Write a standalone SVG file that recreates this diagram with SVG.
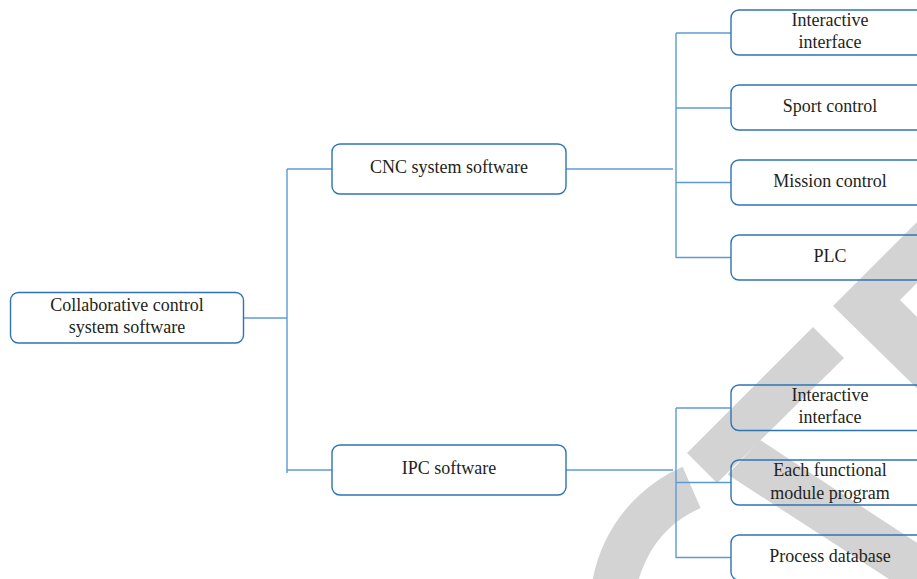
<svg xmlns="http://www.w3.org/2000/svg" width="917" height="579" viewBox="0 0 917 579">
  <style>
    .box { fill: none; stroke: #2e74b5; stroke-width: 1.4; }
    .lbl { font-size: 18px; fill: #231f20; text-anchor: middle; }
    .wire { fill: none; stroke: #5b9bd5; stroke-width: 1.4; }
    .wm { fill: #d3d3d3; stroke: none; }
  </style>

  <!-- grey watermark bands behind the chart -->
  <g id="watermark">
    <path d="M617,642 A131.5,131.5 0 0 1 691.6,487.4" fill="none" stroke="#d3d3d3" stroke-width="45"/>
    <polygon class="wm" points="687,453 813,327 844,358 717,483"/>
    <polygon class="wm" points="760,440 960,571 960,625 727.6,474.6"/>
    <polygon class="wm" points="833,306 940,199 940,260 900,300 940,340 940,411"/>
  </g>

  <!-- connectors -->
  <g id="connectors">
    <path class="wire" d="M243,318 H287"/>
    <path class="wire" d="M287,169 V473"/>
    <path class="wire" d="M287,169 H332"/>
    <path class="wire" d="M287,470 H332"/>
    <path class="wire" d="M566,169 H673"/>
    <path class="wire" d="M676,33 V258"/>
    <path class="wire" d="M676,33 H731"/>
    <path class="wire" d="M676,108 H731"/>
    <path class="wire" d="M676,182.5 H731"/>
    <path class="wire" d="M676,257.5 H731"/>
    <path class="wire" d="M566,470 H673"/>
    <path class="wire" d="M676,408 V558"/>
    <path class="wire" d="M676,408 H731"/>
    <path class="wire" d="M676,482.5 H731"/>
    <path class="wire" d="M676,557.5 H731"/>
  </g>

  <g font-family="Liberation Serif, Times New Roman, serif">
  <g id="root">
    <rect class="box" x="10.5" y="292.5" width="233" height="50.5" rx="8"/>
    <text class="lbl" x="127" y="311">Collaborative control</text>
    <text class="lbl" x="127" y="332.5">system software</text>
  </g>

  <g id="cnc">
    <rect class="box" x="332" y="144" width="234" height="50" rx="8"/>
    <text class="lbl" x="449" y="173">CNC system software</text>
  </g>

  <g id="ipc">
    <rect class="box" x="332" y="445" width="234" height="50" rx="8"/>
    <text class="lbl" x="449" y="474">IPC software</text>
  </g>

  <g id="cnc-interface">
    <rect class="box" x="731" y="10" width="234" height="45" rx="8"/>
    <text class="lbl" x="830" y="26">Interactive</text>
    <text class="lbl" x="830" y="47.5">interface</text>
  </g>

  <g id="sport-control">
    <rect class="box" x="731" y="85" width="234" height="45" rx="8"/>
    <text class="lbl" x="830" y="112">Sport control</text>
  </g>

  <g id="mission-control">
    <rect class="box" x="731" y="160" width="234" height="45" rx="8"/>
    <text class="lbl" x="830" y="187">Mission control</text>
  </g>

  <g id="plc">
    <rect class="box" x="731" y="235" width="234" height="45" rx="8"/>
    <text class="lbl" x="830" y="262">PLC</text>
  </g>

  <g id="ipc-interface">
    <rect class="box" x="731" y="385" width="234" height="45.5" rx="8"/>
    <text class="lbl" x="830" y="400.5">Interactive</text>
    <text class="lbl" x="830" y="423">interface</text>
  </g>

  <g id="module-program">
    <rect class="box" x="731" y="460" width="234" height="45" rx="8"/>
    <text class="lbl" x="830" y="476">Each functional</text>
    <text class="lbl" x="830" y="498.5">module program</text>
  </g>

  <g id="process-db">
    <rect class="box" x="731" y="535" width="234" height="45" rx="8"/>
    <text class="lbl" x="830" y="562">Process database</text>
  </g>
  </g>
</svg>
